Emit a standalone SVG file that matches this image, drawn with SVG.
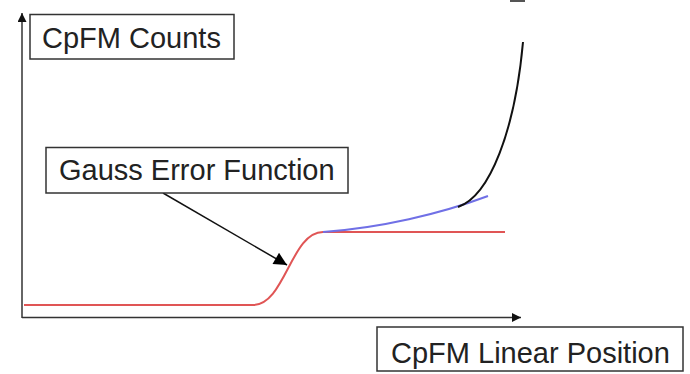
<svg xmlns="http://www.w3.org/2000/svg" width="690" height="374" viewBox="0 0 690 374">
<style>
.box{fill:#fff;stroke:#333;stroke-width:1.5}
.lbl{font-family:"Liberation Sans",Arial,sans-serif;font-size:29px;fill:#222}
.axis{stroke:#333;stroke-width:1.5;fill:none}
</style>
<defs>
<marker id="ahBig" viewBox="0 0 10 10" refX="10" refY="5" markerWidth="18" markerHeight="13" markerUnits="userSpaceOnUse" orient="auto">
<path d="M0,0 L10,5 L0,10 z" fill="#000"/>
</marker>
<marker id="axh" viewBox="0 0 10 10" refX="10" refY="5" markerWidth="13" markerHeight="9" markerUnits="userSpaceOnUse" orient="auto">
<path d="M0,0 L10,5 L0,10 z" fill="#111"/>
</marker>
</defs>
<rect width="690" height="374" fill="#fff"/>
<g id="connectors">
<path id="y-axis" class="axis" d="M22,318 L22,13" marker-end="url(#axh)"/>
<path id="x-axis" class="axis" d="M22,317.5 L521,317.5" marker-end="url(#axh)"/>
<path id="erf-curve" d="M24,305 L253,305 C285,305 291,232 323,232 L505,232" fill="none" stroke="#e05555" stroke-width="2"/>
<path id="blue-curve" d="M323,232 C380,228 440,214 488,196" fill="none" stroke="#7070e6" stroke-width="2"/>
<path id="black-curve" d="M458,207 C490,196 515,130 523,42" fill="none" stroke="#111" stroke-width="2"/>
<path id="pointer" d="M163,193 L287,265" fill="none" stroke="#111" stroke-width="1.5" marker-end="url(#ahBig)"/>
<path d="M510,1 L525,1" stroke="#555" stroke-width="2"/>
</g>
<g id="node-counts">
<rect class="box" x="30" y="14.5" width="204" height="44.5"/>
<text class="lbl" x="42" y="48">CpFM Counts</text>
</g>
<g id="node-gauss">
<rect class="box" x="46" y="147.5" width="302" height="45.5"/>
<text class="lbl" x="59" y="180">Gauss Error Function</text>
</g>
<g id="node-position">
<rect class="box" x="377" y="327" width="306" height="44"/>
<text class="lbl" x="391" y="363">CpFM Linear Position</text>
</g>
</svg>
